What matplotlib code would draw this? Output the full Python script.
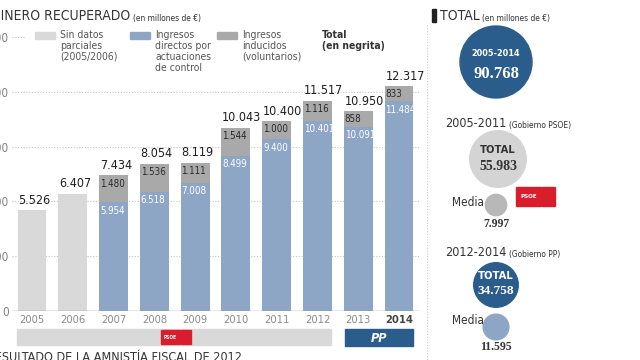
import numpy as np
import matplotlib
matplotlib.use('Agg')
import matplotlib.pyplot as plt
import matplotlib.font_manager as fm
from matplotlib.patches import Rectangle, Circle

# pick a condensed sans if one is installed
have = {(f.name, f.stretch) for f in fm.fontManager.ttflist}
names = {n for n, _ in have}
if 'Liberation Sans Narrow' in names:
    NARROW = ['Liberation Sans Narrow', 'DejaVu Sans']
elif ('DejaVu Sans', 'condensed') in have:
    NARROW = ['DejaVu Sans']
    plt.rcParams['font.stretch'] = 'condensed'
else:
    NARROW = ['Roboto', 'DejaVu Sans']
SERIF = ['Liberation Serif', 'DejaVu Serif']
plt.rcParams['font.family'] = NARROW

# data (millones de euros)
years = ['2005', '2006', '2007', '2008', '2009', '2010', '2011', '2012', '2013', '2014']
sin_datos = [5526, 6407, 0, 0, 0, 0, 0, 0, 0, 0]
directos = [0, 0, 5954, 6518, 7008, 8499, 9400, 10401, 10091, 11484]
inducidos = [0, 0, 1480, 1536, 1111, 1544, 1000, 1116, 858, 833]
totales = [5526, 6407, 7434, 8054, 8119, 10043, 10400, 11517, 10950, 12317]
y_ticks = [0, 3000, 6000, 9000, 12000, 15000]

periodos = ['2005-2014', '2005-2011', '2012-2014']
periodo_total = [90768, 55983, 34758]
media_psoe = 7997
media_pp = 11595

C_GREY = '#d9d9d9'
C_BLUE = '#8ea6c6'
C_IND = '#a9a9a9'
C_DARK = '#2b5d8c'
C_RED = '#d81e2c'
C_TXT = '#333333'


def fmt(v):
    return f"{v:,}".replace(",", ".")


fig = plt.figure(figsize=(6.4, 3.6), dpi=100)

# main bar chart (pixel placement: baseline y=311, 15.000 at y=37)
ax = fig.add_axes([11.6 / 640, (360 - 311) / 360, 407.8 / 640, 274 / 360])
x = np.arange(len(years))
w = 0.71
ax.bar(x, sin_datos, w, color=C_GREY, zorder=3)
ax.bar(x, directos, w, color=C_BLUE, zorder=3)
ax.bar(x, inducidos, w, bottom=directos, color=C_IND, zorder=3)

ax.set_xlim(-0.5, 9.5)
ax.set_ylim(0, 15000)
for s in ax.spines.values():
    s.set_visible(False)
ax.hlines(y_ticks[1:-1], -0.5, 9.5, colors='#c4c4c4', linestyles=(0, (1, 1.5)), lw=0.8, zorder=1)
ax.hlines(y_ticks[-1], -0.5, -0.2, colors='#c4c4c4', linestyles=(0, (1, 1.5)), lw=0.8, zorder=1)
ax.axhline(0, color='#8a8a8a', lw=1, zorder=4)
ax.set_yticks(y_ticks)
ax.set_yticklabels([fmt(v) for v in y_ticks], fontsize=8.5, color='#808080')
ax.set_xticks(x)
ax.set_xticklabels(years, fontsize=8, color='#8a8a8a')
ax.get_xticklabels()[-1].set_fontweight('bold')
ax.get_xticklabels()[-1].set_color('#444444')
ax.tick_params(length=0, axis='y', pad=2)
ax.tick_params(length=0, axis='x', pad=3)

for i in range(len(years)):
    left = x[i] - w / 2 + 0.02
    ax.annotate(fmt(totales[i]), (left, totales[i]), xytext=(0, 2.5), textcoords='offset points',
                ha='left', va='bottom', fontsize=9, color='#1e1e1e', zorder=5)
    if inducidos[i]:
        top = directos[i] + inducidos[i]
        ax.annotate(fmt(inducidos[i]), (left, top), xytext=(0, -2.5), textcoords='offset points',
                    ha='left', va='top', fontsize=7, color='#2a2a2a', zorder=5)
        ax.annotate(fmt(directos[i]), (left, directos[i]), xytext=(0, -2.5), textcoords='offset points',
                    ha='left', va='top', fontsize=7, color='white', zorder=5)

# overlay in pixel coordinates for headers, legend and side panel
ov = fig.add_axes([0, 0, 1, 1], zorder=10)
ov.set_xlim(0, 640)
ov.set_ylim(360, 0)
ov.axis('off')
ov.patch.set_alpha(0)


def with_note(xp, yp, main, note, size=10, note_size=6):
    t = ov.text(xp, yp, main, fontsize=size, color=C_TXT, va='baseline', ha='left')
    ov.annotate(note, xy=(1, 0), xycoords=t, xytext=(2, 0), textcoords='offset points',
                fontsize=note_size, color=C_TXT, va='bottom', ha='left')
    return t


with_note(-9, 20, 'DINERO RECUPERADO', '(en millones de €)')

# legend
leg = [(35, C_GREY, 'Sin datos\nparciales\n(2005/2006)'),
       (130, C_BLUE, 'Ingresos\ndirectos por\nactuaciones\nde control'),
       (217, C_IND, 'Ingresos\ninducidos\n(voluntarios)')]
for lx, col, txt in leg:
    ov.add_patch(Rectangle((lx, 32), 20, 7, color=col))
    ov.text(lx + 25, 30, txt, fontsize=7.5, color='#555555', va='top', ha='left', linespacing=1.12)
ov.text(322, 30, 'Total\n(en negrita)', fontsize=7.5, color=C_TXT, fontweight='bold',
        va='top', ha='left', linespacing=1.12)

# government band below the years
ov.add_patch(Rectangle((17, 329), 314, 16, color=C_GREY))
ov.add_patch(Rectangle((161, 330), 19, 14, color=C_RED))
ov.add_patch(Rectangle((181, 330), 10, 14, color=C_RED))
ov.text(170.5, 337.5, 'PSOE', fontsize=3.5, color='white', fontweight='bold', ha='center', va='center')
ov.add_patch(Rectangle((345, 329), 68, 17, color=C_DARK))
ov.text(379, 338, 'PP', fontsize=9, color='white', fontweight='bold', style='italic',
        ha='center', va='center')

ov.text(-13, 351, 'RESULTADO DE LA AMNISTÍA FISCAL DE 2012', fontsize=9, color=C_TXT,
        ha='left', va='top')

# side panel
ov.plot([427, 427], [25, 360], color='#cccccc', lw=0.8, ls=(0, (1, 1.5)))
ov.add_patch(Rectangle((432, 9), 3.5, 13, color='#222222'))
with_note(440, 20, 'TOTAL', '(en millones de €)')

r0 = 36


def rad(v):
    return r0 * np.sqrt(v / periodo_total[0])


cx = 496
ov.add_patch(Circle((cx, 62), rad(periodo_total[0]), color=C_DARK))
ov.text(cx, 53, periodos[0], fontsize=6.5, color='white', fontweight='bold', ha='center', va='center')
ov.text(cx, 74, fmt(periodo_total[0]), fontsize=12, color='white', fontweight='bold',
        family=SERIF, ha='center', va='center')

with_note(445, 127, periodos[1], '(Gobierno PSOE)', size=9, note_size=6)
ov.add_patch(Circle((cx + 2, 159), rad(periodo_total[1]), color='#d4d4d4'))
ov.text(cx + 2, 150, 'TOTAL', fontsize=8, color=C_TXT, fontweight='bold', ha='center', va='center')
ov.text(cx + 2, 166, fmt(periodo_total[1]), fontsize=10, color=C_TXT, fontweight='bold',
        family=SERIF, ha='center', va='center')
ov.add_patch(Rectangle((516, 187), 25, 19, color=C_RED))
ov.add_patch(Rectangle((542, 187), 13, 19, color=C_RED))
ov.text(528.5, 196.5, 'PSOE', fontsize=4.5, color='white', fontweight='bold', ha='center', va='center')

ov.text(452, 202, 'Media', fontsize=8.5, color=C_TXT, ha='left', va='center')
ov.add_patch(Circle((cx, 205), rad(media_psoe), color='#b8b8b8'))
ov.text(cx, 224, fmt(media_psoe), fontsize=8.5, color=C_TXT, fontweight='bold',
        family=SERIF, ha='center', va='center')

with_note(445, 256, periodos[2], '(Gobierno PP)', size=9, note_size=6)
ov.add_patch(Circle((cx, 285), rad(periodo_total[2]), color=C_DARK))
ov.text(cx, 276, 'TOTAL', fontsize=8, color='white', fontweight='bold', ha='center', va='center')
ov.text(cx, 291, fmt(periodo_total[2]), fontsize=9.5, color='white', fontweight='bold',
        family=SERIF, ha='center', va='center')

ov.text(452, 320, 'Media', fontsize=8.5, color=C_TXT, ha='left', va='center')
ov.add_patch(Circle((cx, 327), rad(media_pp), color=C_BLUE))
ov.text(cx, 347, fmt(media_pp), fontsize=8.5, color=C_TXT, fontweight='bold',
        family=SERIF, ha='center', va='center')

fig.savefig('out.png', dpi=100)
plt.close(fig)
